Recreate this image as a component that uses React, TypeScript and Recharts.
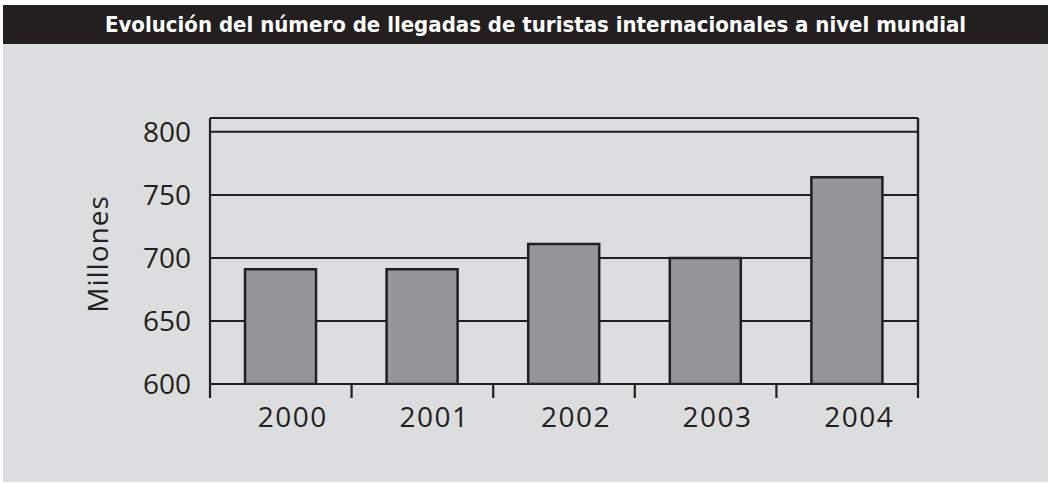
import React from "react";
import { BarChart, Bar, XAxis, YAxis, CartesianGrid } from "recharts";

const years = ["2000", "2001", "2002", "2003", "2004"];
const arrivals = [691, 691, 711, 700, 764];
const yTicks = [600, 650, 700, 750, 800];
const yDomain = [600, 811];
const title = "Evolución del número de llegadas de turistas internacionales a nivel mundial";
const yLabel = "Millones";

const data = years.map((year, i) => ({ year, value: arrivals[i] }));

const INK = "#231f20";
const BG = "#dcdddf";
const BAR = "#959699";
const FONT = "'Open Sans', sans-serif";

const XTick = (props: any) => {
  const { x, y, payload, index, visibleTicksCount } = props;
  const half = payload.offset ?? 0;
  return (
    <g>
      <line x1={x - half} x2={x - half} y1={y} y2={y + 14} stroke={INK} strokeWidth={2.2} />
      {index === visibleTicksCount - 1 && (
        <line x1={x + half} x2={x + half} y1={y - 266} y2={y + 14} stroke={INK} strokeWidth={2.2} />
      )}
      <text
        x={x + 12}
        y={y + 43}
        textAnchor="middle"
        fill={INK}
        fontFamily={FONT}
        fontSize={28}
        letterSpacing={1.5}
      >
        {payload.value}
      </text>
    </g>
  );
};

const YLabel = (props: any) => {
  const vb = props.viewBox;
  const cx = 94;
  const cy = vb.y + vb.height / 2 + 3;
  return (
    <text
      x={cx}
      y={cy}
      transform={`rotate(-90 ${cx} ${cy})`}
      textAnchor="middle"
      dominantBaseline="central"
      fill={INK}
      fontFamily={FONT}
      fontSize={28}
      letterSpacing={1}
    >
      {yLabel}
    </text>
  );
};

export default function App() {
  return (
    <div
      style={{
        position: "absolute",
        left: 3,
        top: 5,
        width: 1045,
        height: 477,
        background: BG,
      }}
    >
      <div
        style={{
          height: 39,
          background: INK,
          color: "#ffffff",
          fontFamily: "'DejaVu Sans Condensed', 'DejaVu Sans', sans-serif",
          fontWeight: "bold",
          fontSize: 22,
          lineHeight: "39px",
          textAlign: "center",
          paddingLeft: 20,
          boxSizing: "border-box",
          whiteSpace: "nowrap",
        }}
      >
        {title}
      </div>
      <BarChart
        width={1045}
        height={438}
        data={data}
        margin={{ top: 74, right: 0, bottom: 0, left: 0 }}
      >
        <CartesianGrid
          yAxisId="left"
          vertical={false}
          stroke={INK}
          strokeWidth={2}
          strokeOpacity={1}
        />
        <XAxis
          dataKey="year"
          height={98}
          axisLine={{ stroke: INK, strokeWidth: 2.2 }}
          tickLine={false}
          tickSize={0}
          tickMargin={0}
          interval={0}
          tick={<XTick />}
        />
        <YAxis
          yAxisId="left"
          width={207}
          domain={yDomain}
          ticks={yTicks}
          allowDataOverflow
          axisLine={{ stroke: INK, strokeWidth: 2.2 }}
          tickLine={false}
          tickSize={0}
          tickMargin={19}
          tick={{ fill: INK, fontFamily: FONT, fontSize: 28 }}
          label={<YLabel />}
        />
        <YAxis
          yAxisId="right"
          orientation="right"
          width={130}
          domain={yDomain}
          ticks={yTicks}
          allowDataOverflow
          axisLine={{ stroke: INK, strokeWidth: 2.2 }}
          tickLine={false}
          tick={false}
        />
        <Bar
          yAxisId="left"
          dataKey="value"
          fill={BAR}
          stroke={INK}
          strokeWidth={2.5}
          barSize={71}
          isAnimationActive={false}
        />
      </BarChart>
    </div>
  );
}
